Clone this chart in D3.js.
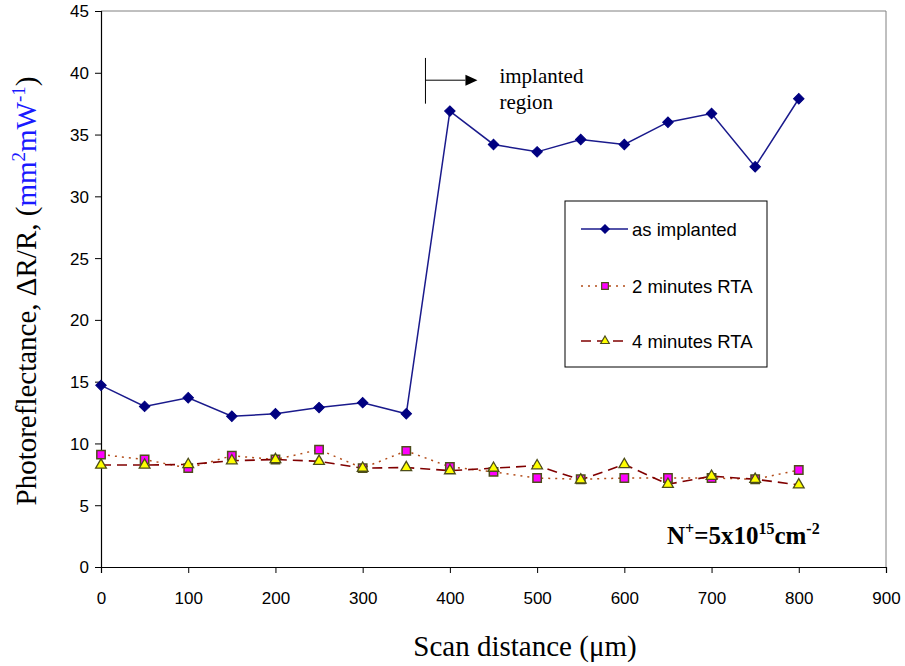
<!DOCTYPE html>
<html>
<head>
<meta charset="utf-8">
<script src="https://cdn.jsdelivr.net/npm/d3@7"></script>
<style>
  body { margin: 0; background: #fff; }
  svg { display: block; }
  .tick text { font-family: Arial, "Liberation Sans", sans-serif; font-size: 17px; fill: #000; }
</style>
</head>
<body>
<div id="chart"></div>
<script>
// scan positions (um)
var distance = [0, 50, 100, 150, 200, 250, 300, 350, 400, 450, 500, 550, 600, 650, 700, 750, 800];

// series values
var asImplanted = [14.7, 13.0, 13.7, 12.2, 12.4, 12.9, 13.3, 12.4, 36.9, 34.2, 33.6, 34.6, 34.2, 36.0, 36.7, 32.4, 37.9];
var rta2min = [9.1, 8.7, 8.0, 9.0, 8.7, 9.5, 8.0, 9.4, 8.1, 7.7, 7.2, 7.1, 7.2, 7.2, 7.2, 7.1, 7.85];
var rta4min = [8.25, 8.25, 8.3, 8.6, 8.7, 8.55, 8.0, 8.05, 7.8, 8.0, 8.2, 7.05, 8.3, 6.7, 7.35, 7.1, 6.65];

var seriesNames = ["as implanted", "2 minutes RTA", "4 minutes RTA"];
var xTicks = [0, 100, 200, 300, 400, 500, 600, 700, 800, 900];
var yTicks = [0, 5, 10, 15, 20, 25, 30, 35, 40, 45];

var width = 905, height = 666;
var margin = {top: 11, right: 19, bottom: 99, left: 101};
var w = width - margin.left - margin.right,
    h = height - margin.top - margin.bottom;

var svg = d3.select("#chart").append("svg")
    .attr("width", width)
    .attr("height", height);

var g = svg.append("g")
    .attr("transform", "translate(" + margin.left + "," + margin.top + ")");

var x = d3.scaleLinear().domain([0, 900]).range([0, w]);
var y = d3.scaleLinear().domain([0, 45]).range([h, 0]);

// frame: grey top and right
g.append("line").attr("x1", 0).attr("x2", w).attr("y1", 0).attr("y2", 0)
    .attr("stroke", "#808080").attr("stroke-width", 1);
g.append("line").attr("x1", w).attr("x2", w).attr("y1", 0).attr("y2", h)
    .attr("stroke", "#808080").attr("stroke-width", 1);

// axes
var xAxis = g.append("g")
    .attr("transform", "translate(0," + h + ")")
    .call(d3.axisBottom(x).tickValues(xTicks).tickSize(6).tickPadding(19).tickFormat(d3.format("d")));
var yAxis = g.append("g")
    .call(d3.axisLeft(y).tickValues(yTicks).tickSize(6).tickPadding(6).tickFormat(d3.format("d")));
[xAxis, yAxis].forEach(function(a) {
  a.select(".domain").attr("stroke", "#000").attr("stroke-width", 1.2);
  a.selectAll(".tick line").attr("stroke", "#000");
});
yAxis.selectAll(".tick text").attr("dy", "0.35em");

// lines
function rows(vals) {
  return distance.map(function(d, i) { return {x: d, y: vals[i]}; });
}
var line = d3.line()
    .x(function(d) { return x(d.x); })
    .y(function(d) { return y(d.y); });

g.append("path").datum(rows(rta2min))
    .attr("fill", "none").attr("stroke", "#b34d1a").attr("stroke-width", 1.5)
    .attr("stroke-dasharray", "2,5").attr("d", line);
g.append("path").datum(rows(rta4min))
    .attr("fill", "none").attr("stroke", "#800000").attr("stroke-width", 1.6)
    .attr("stroke-dasharray", "10,6").attr("d", line);
g.append("path").datum(rows(asImplanted))
    .attr("fill", "none").attr("stroke", "#1a1a8c").attr("stroke-width", 1.5).attr("d", line);

// markers (diamond = square turned 45 degrees)
var diamond = d3.symbol().type(d3.symbolSquare).size(55);
var square = d3.symbol().type(d3.symbolSquare).size(70);
var triangle = d3.symbol().type(d3.symbolTriangle).size(50);

g.selectAll(".sq").data(rows(rta2min)).enter().append("path")
    .attr("class", "sq")
    .attr("transform", function(d) { return "translate(" + x(d.x) + "," + y(d.y) + ")"; })
    .attr("d", square).attr("fill", "#ff00ff").attr("stroke", "#4d4d1a").attr("stroke-width", 1.5);
g.selectAll(".tri").data(rows(rta4min)).enter().append("path")
    .attr("class", "tri")
    .attr("transform", function(d) { return "translate(" + x(d.x) + "," + y(d.y) + ")"; })
    .attr("d", triangle).attr("fill", "#ffff00").attr("stroke", "#4d4d1a").attr("stroke-width", 1.3);
g.selectAll(".dia").data(rows(asImplanted)).enter().append("path")
    .attr("class", "dia")
    .attr("transform", function(d) { return "translate(" + x(d.x) + "," + y(d.y) + ") rotate(45)"; })
    .attr("d", diamond).attr("fill", "#000080").attr("stroke", "#000080");

// annotation: implanted region marker
var ax = x(372);
g.append("line").attr("x1", ax).attr("x2", ax).attr("y1", y(41.2)).attr("y2", y(37.5))
    .attr("stroke", "#000").attr("stroke-width", 1);
g.append("line").attr("x1", ax).attr("x2", ax + 40).attr("y1", y(39.4)).attr("y2", y(39.4))
    .attr("stroke", "#000").attr("stroke-width", 1);
g.append("path")
    .attr("d", "M" + (ax + 52) + "," + y(39.4) + "l-12,-5.5v11z")
    .attr("fill", "#000");
var ann = g.append("text")
    .attr("x", ax + 74).attr("y", y(39.4) + 3)
    .style("font-family", "'Liberation Serif', 'Times New Roman', serif")
    .style("font-size", "21px");
ann.append("tspan").text("implanted");
ann.append("tspan").attr("x", ax + 74).attr("dy", 26).text("region");

// legend
var lg = svg.append("g").attr("transform", "translate(565,201)");
lg.append("rect").attr("width", 202).attr("height", 166)
    .attr("fill", "#fff").attr("stroke", "#000").attr("stroke-width", 1);
var legendY = [28, 85, 140];
var legendStyle = [
  {stroke: "#1a1a8c", dash: null, sym: diamond, rot: 45, fill: "#000080", mstroke: "#000080"},
  {stroke: "#b34d1a", dash: "2,5", sym: square, rot: 0, fill: "#ff00ff", mstroke: "#4d4d1a"},
  {stroke: "#800000", dash: "10,6", sym: triangle, rot: 0, fill: "#ffff00", mstroke: "#4d4d1a"}
];
seriesNames.forEach(function(name, i) {
  var s = legendStyle[i];
  lg.append("line").attr("x1", 16).attr("x2", 63).attr("y1", legendY[i]).attr("y2", legendY[i])
      .attr("stroke", s.stroke).attr("stroke-width", 1.5)
      .attr("stroke-dasharray", s.dash);
  lg.append("path").attr("transform", "translate(40," + legendY[i] + ") rotate(" + s.rot + ") scale(0.8)")
      .attr("d", s.sym).attr("fill", s.fill).attr("stroke", s.mstroke).attr("stroke-width", 1.5);
  lg.append("text").attr("x", 67).attr("y", legendY[i] + 7)
      .style("font-family", "Arial, 'Liberation Sans', sans-serif")
      .style("font-size", "18.5px")
      .text(name);
});

// dose label
var dose = svg.append("text")
    .attr("x", 667).attr("y", 544)
    .style("font-family", "'Liberation Serif', 'Times New Roman', serif")
    .style("font-size", "25px").style("font-weight", "bold");
dose.append("tspan").text("N");
dose.append("tspan").attr("dy", -10).style("font-size", "16px").text("+");
dose.append("tspan").attr("dy", 10).text("=5x10");
dose.append("tspan").attr("dy", -10).style("font-size", "16px").text("15");
dose.append("tspan").attr("dy", 10).text("cm");
dose.append("tspan").attr("dy", -10).style("font-size", "16px").text("-2");

// axis titles
svg.append("text")
    .attr("x", 525).attr("y", 656)
    .attr("text-anchor", "middle")
    .style("font-family", "'Liberation Serif', 'Times New Roman', serif")
    .style("font-size", "29px")
    .text("Scan distance (\u03bcm)");

var yt = svg.append("text")
    .attr("transform", "translate(36,291) rotate(-90)")
    .attr("text-anchor", "middle")
    .style("font-family", "'Liberation Serif', 'Times New Roman', serif")
    .style("font-size", "29px");
yt.append("tspan").text("Photoreflectance, \u0394R/R, (");
var blue = "#1a1aff";
yt.append("tspan").attr("fill", blue).text("mm");
yt.append("tspan").attr("fill", blue).attr("dy", -11).style("font-size", "19px").text("2");
yt.append("tspan").attr("fill", blue).attr("dy", 11).text("mW");
yt.append("tspan").attr("fill", blue).attr("dy", -11).style("font-size", "19px").text("-1");
yt.append("tspan").attr("dy", 11).text(")");
</script>
</body>
</html>
